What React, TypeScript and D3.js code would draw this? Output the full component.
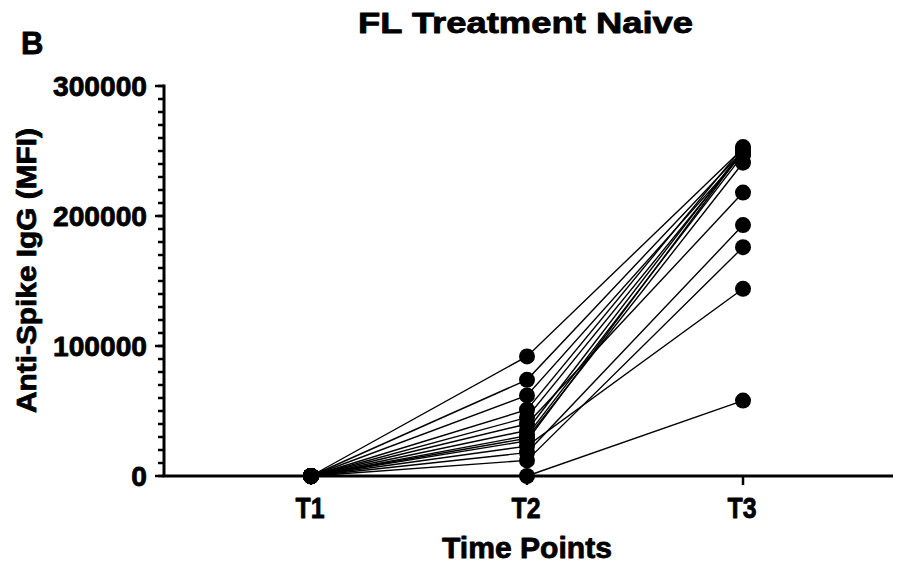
import React from "react";
import * as d3 from "d3";

// Time point categories
const timePoints = ["T1", "T2", "T3"];

// Anti-Spike IgG (MFI) per subject at each time point
const valuesT1 = [0, 0, 0, 0, 0, 0, 0, 0, 0, 0, 0, 0, 0, 0];
const valuesT2 = [92000, 74000, 62000, 51000, 45000, 40000, 35000, 31000, 29000, 27000, 23000, 18000, 12000, 0];
const valuesT3 = [252000, 250000, 248000, 253000, 249000, 218000, 251000, 247000, 241000, 250000, 144000, 193000, 176000, 58000];

const yMajorTicks = [0, 100000, 200000, 300000];
const yMinorTicks = d3.range(0, 300001, 10000);

const W = 897;
const H = 570;
const FONT = "'Liberation Sans', Arial, Helvetica, sans-serif";

// Heavy bold text: filled glyphs with a thin matching outline
const heavy = {
  fontFamily: FONT,
  fontWeight: "bold" as const,
  fill: "#000",
  stroke: "#000",
  strokeWidth: 0.8,
  strokeLinejoin: "round" as const,
};

export default function App() {
  const x = d3.scaleLinear().domain([1, 3]).range([311, 743]);
  const y = d3.scaleLinear().domain([0, 300000]).range([476, 86]);
  const axisLeft = 164;
  const axisRight = 893;

  const subjects = valuesT1.map((v, i) => [v, valuesT2[i], valuesT3[i]]);
  const line = d3
    .line<number>()
    .x((_, j) => x(j + 1))
    .y((d) => y(d));

  return (
    <svg
      width={W}
      height={H}
      style={{ position: "absolute", left: 0, top: 0, background: "#fff" }}
    >
      <rect width={W} height={H} fill="#fff" />
      {/* Panel letter and title */}
      <text x={21} y={54} fontSize={31} {...heavy}>
        B
      </text>
      <text
        x={525.5}
        y={33}
        textAnchor="middle"
        fontSize={29}
        textLength={335}
        lengthAdjust="spacingAndGlyphs"
        {...heavy}
      >
        FL Treatment Naive
      </text>

      {/* Y axis */}
      <line x1={axisLeft} x2={axisLeft} y1={y(300000) - 1.5} y2={y(0)} stroke="#000" strokeWidth={3} />
      {yMinorTicks.map((t) => (
        <line key={"m" + t} x1={axisLeft - 6} x2={axisLeft} y1={y(t)} y2={y(t)} stroke="#000" strokeWidth={2.5} />
      ))}
      {yMajorTicks.map((t) => (
        <g key={"M" + t}>
          <line x1={axisLeft - 9} x2={axisLeft} y1={y(t)} y2={y(t)} stroke="#000" strokeWidth={2.5} />
          <text
            x={147}
            y={y(t) + 10}
            textAnchor="end"
            fontSize={27}
            textLength={15.67 * String(t).length}
            lengthAdjust="spacingAndGlyphs"
            {...heavy}
          >
            {t}
          </text>
        </g>
      ))}
      <text
        transform={`translate(36,270.5) rotate(-90)`}
        textAnchor="middle"
        fontSize={28}
        textLength={285}
        lengthAdjust="spacingAndGlyphs"
        {...heavy}
      >
        Anti-Spike IgG (MFI)
      </text>

      {/* X axis */}
      <line x1={axisLeft - 1.5} x2={axisRight} y1={y(0)} y2={y(0)} stroke="#000" strokeWidth={3} />
      {timePoints.map((tp, i) => (
        <g key={tp}>
          <line x1={x(i + 1)} x2={x(i + 1)} y1={y(0)} y2={y(0) + 9} stroke="#000" strokeWidth={2.5} />
          <text
            x={x(i + 1) - 1}
            y={518}
            textAnchor="middle"
            fontSize={29}
            textLength={29}
            lengthAdjust="spacingAndGlyphs"
            {...heavy}
          >
            {tp}
          </text>
        </g>
      ))}
      <text
        x={527}
        y={558}
        textAnchor="middle"
        fontSize={29}
        textLength={170}
        lengthAdjust="spacingAndGlyphs"
        {...heavy}
      >
        Time Points
      </text>

      {/* Subject trajectories */}
      {subjects.map((s, i) => (
        <path key={"l" + i} d={line(s) || ""} fill="none" stroke="#000" strokeWidth={1.4} />
      ))}
      {subjects.map((s, i) =>
        s.map((v, j) => (
          <circle key={`c${i}-${j}`} cx={x(j + 1)} cy={y(v)} r={8} fill="#000" />
        ))
      )}
    </svg>
  );
}
